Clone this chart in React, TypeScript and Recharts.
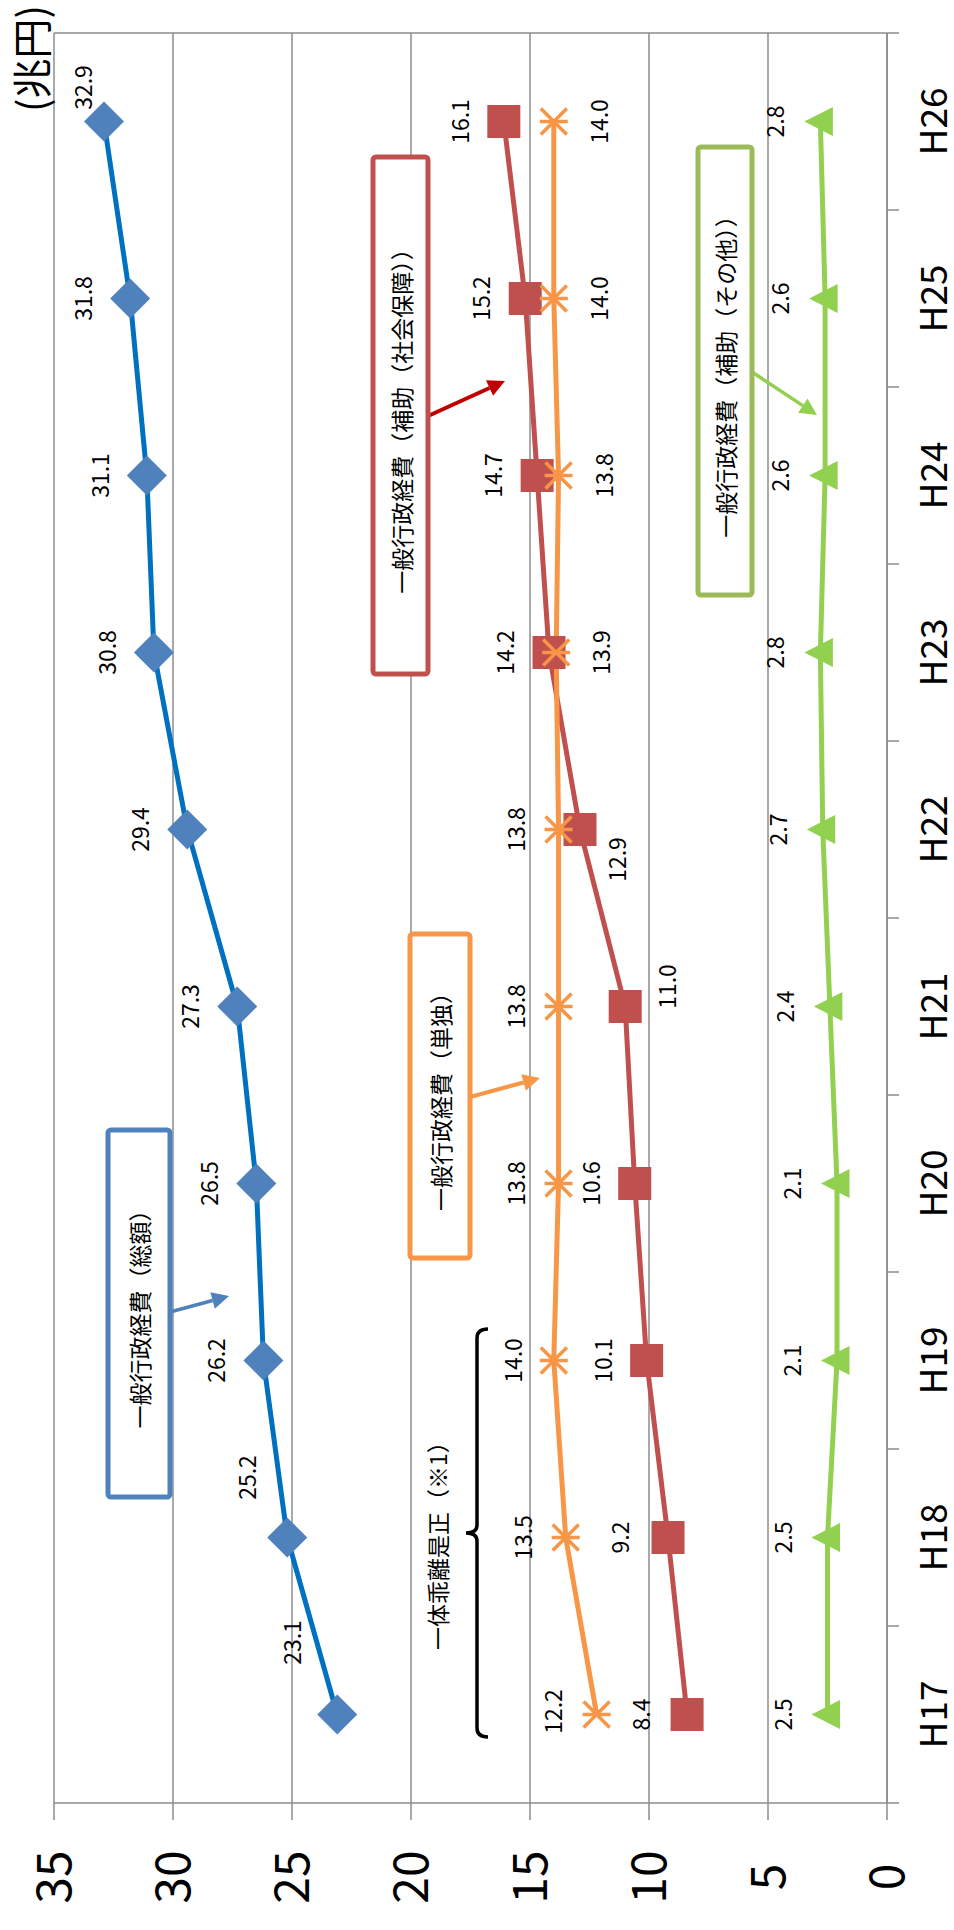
import React from 'react';
import { LineChart, Line, XAxis, YAxis, CartesianGrid, LabelList, ReferenceLine } from 'recharts';

// 一般行政経費の推移（兆円）
const years = ['H17', 'H18', 'H19', 'H20', 'H21', 'H22', 'H23', 'H24', 'H25', 'H26'];
const totalCost = [23.1, 25.2, 26.2, 26.5, 27.3, 29.4, 30.8, 31.1, 31.8, 32.9];
const welfareSubsidy = [8.4, 9.2, 10.1, 10.6, 11.0, 12.9, 14.2, 14.7, 15.2, 16.1];
const singleCost = [12.2, 13.5, 14.0, 13.8, 13.8, 13.8, 13.9, 13.8, 14.0, 14.0];
const otherSubsidy = [2.5, 2.5, 2.1, 2.1, 2.4, 2.7, 2.8, 2.6, 2.6, 2.8];
const valueTicks = [0, 5, 10, 15, 20, 25, 30, 35];

const data = years.map((year, i) => ({
  i,
  year,
  total: totalCost[i],
  welfare: welfareSubsidy[i],
  single: singleCost[i],
  other: otherSubsidy[i],
}));

const FONT = "'Noto Sans CJK JP', 'Noto Sans', sans-serif";
const GRID = '#8c8c8c';

// the chart is laid out landscape and then turned a quarter turn
const CW = 1930;
const CH = 954;
const MARGIN = { top: 54, right: 33, bottom: 0, left: 0 };
const Y_W = 127;
const X_H = 67;
const PLOT_L = Y_W;
const PLOT_R = CW - MARGIN.right;
const PLOT_B = CH - X_H;
const BAND = (PLOT_R - PLOT_L) / years.length;

// label offsets from each point [dx, dy]
const totalLabelPos = [[72, -44], [60, -39], [0, -46], [0, -46], [0, -46], [0, -46], [0, -46], [0, -46], [0, -46], [34, -20]];
const welfareLabelPos = [[0, -45], [0, -47], [0, -43], [0, -43], [20, 43], [-30, 38], [0, -43], [0, -43], [0, -43], [0, -43]];
const singleLabelPos = [[3, -43], [0, -42], [0, -40], [0, -42], [0, -42], [0, -42], [0, 46], [0, 46], [0, 46], [0, 46]];
const otherLabelPos = [[0, -44], [0, -44], [0, -44], [0, -44], [0, -44], [0, -44], [0, -44], [0, -44], [0, -44], [0, -44]];

const makeLabel = (pos: number[][]) => (props: any) => {
  const { x, y, value, index } = props;
  if (x == null || y == null) return null;
  const [dx, dy] = pos[index] || [0, -44];
  return (
    <text key={`l${index}`} x={x + dx} y={y + dy + 8} textAnchor="middle" fontSize={23} fontFamily={FONT} fill="#000">
      {Number(value).toFixed(1)}
    </text>
  );
};

const Diamond = (props: any) => {
  const { cx, cy, index } = props;
  const r = 20;
  return <polygon key={`d${index}`} points={`${cx},${cy - r} ${cx + r},${cy} ${cx},${cy + r} ${cx - r},${cy}`} fill="#4F81BD" />;
};

const Square = (props: any) => {
  const { cx, cy, index } = props;
  return <rect key={`s${index}`} x={cx - 16.5} y={cy - 16.5} width={33} height={33} fill="#C0504D" />;
};

const Asterisk = (props: any) => {
  const { cx, cy, index } = props;
  const r = 13;
  return (
    <g key={`a${index}`} stroke="#F79646" strokeWidth={3.5}>
      <line x1={cx - r} y1={cy - r} x2={cx + r} y2={cy + r} />
      <line x1={cx - r} y1={cy + r} x2={cx + r} y2={cy - r} />
      <line x1={cx} y1={cy - 14} x2={cx} y2={cy + 14} />
    </g>
  );
};

const Triangle = (props: any) => {
  const { cx, cy, index } = props;
  return <polygon key={`t${index}`} points={`${cx},${cy - 16} ${cx + 14.5},${cy + 12.5} ${cx - 14.5},${cy + 12.5}`} fill="#92D050" />;
};

const YearTick = (props: any) => {
  const { x, payload, index } = props;
  const edge = x - BAND / 2;
  return (
    <g>
      <line x1={edge} y1={PLOT_B} x2={edge} y2={PLOT_B + 12} stroke={GRID} strokeWidth={1.5} />
      {index === years.length - 1 && (
        <line x1={x + BAND / 2} y1={PLOT_B} x2={x + BAND / 2} y2={PLOT_B + 12} stroke={GRID} strokeWidth={1.5} />
      )}
      <text x={x} y={PLOT_B + 60} textAnchor="middle" fontSize={37} fontFamily={FONT} fill="#000">
        {years[payload.value]}
      </text>
    </g>
  );
};

const ValueTick = (props: any) => {
  const { y, payload } = props;
  return (
    <text x={53} y={y + 17} textAnchor="middle" fontSize={48} fontFamily={FONT} fill="#000">
      {payload.value}
    </text>
  );
};

const Arrow = ({ x1, y1, x2, y2, color, w }: any) => {
  const ang = Math.atan2(y2 - y1, x2 - x1);
  const len = 17;
  const half = 8.5;
  const bx = x2 - len * Math.cos(ang);
  const by = y2 - len * Math.sin(ang);
  const px = -Math.sin(ang) * half;
  const py = Math.cos(ang) * half;
  return (
    <g>
      <line x1={x1} y1={y1} x2={bx} y2={by} stroke={color} strokeWidth={w} />
      <polygon points={`${x2},${y2} ${bx + px},${by + py} ${bx - px},${by - py}`} fill={color} />
    </g>
  );
};

const Callout = ({ x, y, w, h, color, text }: any) => (
  <g>
    <rect x={x} y={y} width={w} height={h} rx={3} fill="#fff" stroke={color} strokeWidth={5} />
    <text x={x + w / 2} y={y + h / 2} textAnchor="middle" dominantBaseline="central" fontSize={23} fontFamily={FONT} fill="#000">
      {text}
    </text>
  </g>
);

function Notes() {
  // brace over the years of the 一体乖離是正
  const v0 = 477, u0 = 193, u1 = 601, um = 397;
  const brace = `M ${u0} ${v0 + 11} Q ${u0} ${v0} ${u0 + 9} ${v0} L ${um - 8} ${v0} Q ${um} ${v0} ${um} ${v0 - 11} Q ${um} ${v0} ${um + 8} ${v0} L ${u1 - 9} ${v0} Q ${u1} ${v0} ${u1} ${v0 + 11}`;
  return (
    <svg width={CW} height={CH} style={{ position: 'absolute', left: 0, top: 0, pointerEvents: 'none' }}>
      <text x={1925} y={47} textAnchor="end" fontSize={40} fontFamily={FONT} fill="#000">(兆円)</text>

      <Arrow x1={618} y1={170} x2={634} y2={229} color="#4F81BD" w={3.5} />
      <Callout x={433} y={108} w={367} h={62} color="#4F81BD" text="一般行政経費（総額）" />

      <Arrow x1={833} y1={470} x2={852} y2={540} color="#F79646" w={4} />
      <Callout x={672} y={410} w={324} h={60} color="#F79646" text="一般行政経費（単独）" />

      <Arrow x1={1514} y1={428} x2={1549} y2={505} color="#C00000" w={4} />
      <Callout x={1256} y={373} w={517} h={55} color="#C0504D" text="一般行政経費（補助（社会保障））" />

      <Arrow x1={1558} y1={752} x2={1515} y2={817} color="#92D050" w={3.5} />
      <Callout x={1335} y={698} w={448} h={54} color="#9BBB59" text="一般行政経費（補助（その他））" />

      <path d={brace} fill="none" stroke="#000" strokeWidth={3.5} />
      <text x={390} y={437} textAnchor="middle" dominantBaseline="central" fontSize={23} fontFamily={FONT} fill="#000">
        一体乖離是正（※1）
      </text>
    </svg>
  );
}

export default function App() {
  return (
    <div style={{ position: 'absolute', left: 0, top: 0, width: 954, height: 1930, overflow: 'hidden', background: '#fff' }}>
      <div
        style={{
          position: 'absolute',
          left: 0,
          top: 0,
          width: CW,
          height: CH,
          transformOrigin: '0 0',
          transform: `translateY(${CW}px) rotate(-90deg)`,
        }}
      >
        <LineChart width={CW} height={CH} data={data} margin={MARGIN}>
          <CartesianGrid vertical={false} stroke={GRID} strokeWidth={1.5} />
          <XAxis
            dataKey="i"
            type="number"
            domain={[-0.5, years.length - 0.5]}
            ticks={years.map((_, i) => i)}
            interval={0}
            height={X_H}
            tickLine={false}
            tickSize={0}
            tickMargin={0}
            axisLine={{ stroke: GRID, strokeWidth: 1.5 }}
            tick={(p: any) => <YearTick {...p} />}
          />
          <YAxis
            type="number"
            domain={[0, 35]}
            ticks={valueTicks}
            interval={0}
            width={Y_W}
            tickSize={17}
            tickMargin={0}
            tickLine={{ stroke: GRID, strokeWidth: 1.5 }}
            axisLine={{ stroke: GRID, strokeWidth: 1.5 }}
            tick={(p: any) => <ValueTick {...p} />}
          />
          <ReferenceLine x={years.length - 0.5} stroke={GRID} strokeWidth={1.5} />

          <Line type="linear" dataKey="total" stroke="#0070C0" strokeWidth={5} dot={Diamond} activeDot={false} isAnimationActive={false}>
            <LabelList dataKey="total" content={makeLabel(totalLabelPos)} />
          </Line>
          <Line type="linear" dataKey="welfare" stroke="#C0504D" strokeWidth={5} dot={Square} activeDot={false} isAnimationActive={false}>
            <LabelList dataKey="welfare" content={makeLabel(welfareLabelPos)} />
          </Line>
          <Line type="linear" dataKey="single" stroke="#F79646" strokeWidth={5} dot={Asterisk} activeDot={false} isAnimationActive={false}>
            <LabelList dataKey="single" content={makeLabel(singleLabelPos)} />
          </Line>
          <Line type="linear" dataKey="other" stroke="#92D050" strokeWidth={5} dot={Triangle} activeDot={false} isAnimationActive={false}>
            <LabelList dataKey="other" content={makeLabel(otherLabelPos)} />
          </Line>
        </LineChart>
        <Notes />
      </div>
    </div>
  );
}
